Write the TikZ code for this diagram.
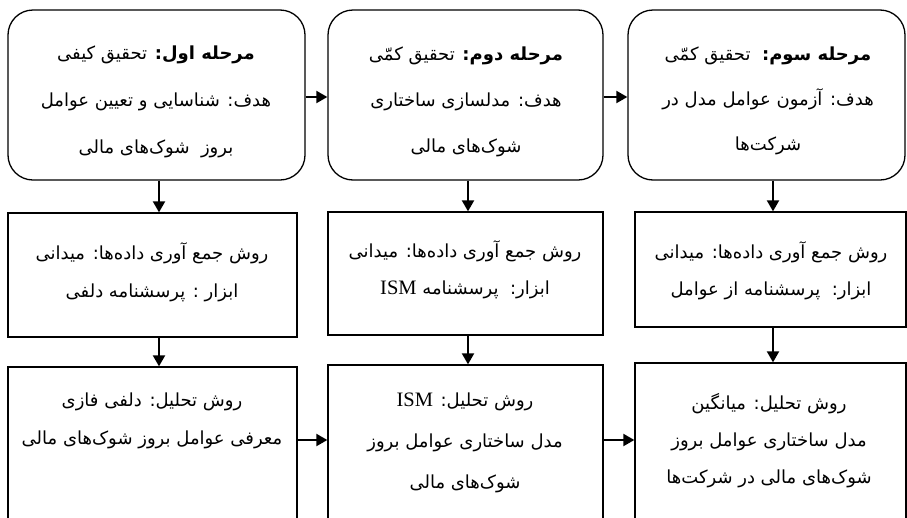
\documentclass[tikz,border=0pt]{standalone}
\usepackage{fontspec}
\setmainfont{DejaVu Sans}
\newfontfamily\fafont[Script=Arabic]{DejaVu Sans}
\newfontfamily\latfont{Liberation Serif}
\TeXXeTstate=1
\usetikzlibrary{arrows.meta}
\newcommand{\fatxt}[1]{\beginR #1\endR}
\newcommand{\ismtxt}{\beginL{\latfont\fontsize{20.5}{20.5}\selectfont ISM}\endL}
\newcommand{\fasize}[1]{\fafont\fontsize{18}{#1}\selectfont}
\tikzset{
  rbox/.style={draw, line width=1.3pt, rounded corners=25pt, inner sep=0pt},
  sbox/.style={draw, line width=1.3pt, inner sep=0pt},
  txt/.style={align=center, inner sep=0pt},
  arr/.style={line width=2pt, -{Triangle[length=11pt,width=12pt]}}
}
\begin{document}
\begin{tikzpicture}[x=1pt,y=-1pt,font=\fasize{18}]
\useasboundingbox (0,0) rectangle (907,517);
\clip (0,0) rectangle (907,517);
% row 1
\node[rbox, minimum width=297pt, minimum height=170pt] (b1) at (156.5,95) {};
\node[rbox, minimum width=275pt, minimum height=170pt] (b2) at (465.5,95) {};
\node[rbox, minimum width=277pt, minimum height=170pt] (b3) at (766.5,95) {};
% row 2
\node[sbox, minimum width=289pt, minimum height=124pt] (c1) at (152.5,275) {};
\node[sbox, minimum width=275pt, minimum height=123pt] (c2) at (465.5,273.5) {};
\node[sbox, minimum width=271pt, minimum height=115pt] (c3) at (770.5,269.5) {};
% row 3
\node[sbox, minimum width=289pt, minimum height=163pt] (d1) at (152.5,448.5) {};
\node[sbox, minimum width=275pt, minimum height=165pt] (d2) at (465.5,447.5) {};
\node[sbox, minimum width=271pt, minimum height=167pt] (d3) at (770.5,446.5) {};
% texts
\node[txt, font=\fasize{47}] (t1) at (156,102) {%
\fatxt{{\bfseries مرحله اول:} تحقیق کیفی}\\
\fatxt{هدف: شناسایی و تعیین عوامل}\\
\fatxt{بروز\ \ شوک‌های مالی}};
\node[txt, font=\fasize{46}] (t2) at (466,102) {%
\fatxt{{\bfseries مرحله دوم:} تحقیق کمّی}\\
\fatxt{هدف: مدلسازی ساختاری}\\
\fatxt{شوک‌های مالی}};
\node[txt, font=\fasize{45}] (t3) at (768,101) {%
\fatxt{{\bfseries مرحله سوم:}\ \ تحقیق کمّی}\\
\fatxt{هدف: آزمون عوامل مدل در}\\
\fatxt{شرکت‌ها}};
\node[txt, font=\fasize{38}] (u1) at (152,272) {%
\fatxt{روش جمع آوری داده‌ها: میدانی}\\
\fatxt{ابزار : پرسشنامه دلفی}};
\node[txt, font=\fasize{37}] (u2) at (465,270) {%
\fatxt{روش جمع آوری داده‌ها: میدانی}\\
\fatxt{ابزار:\ \ پرسشنامه \ismtxt}};
\node[txt, font=\fasize{37}] (u3) at (771,271) {%
\fatxt{روش جمع آوری داده‌ها: میدانی}\\
\fatxt{ابزار:\ \ پرسشنامه از عوامل}};
\node[txt, font=\fasize{38}] (v1) at (152,421) {%
\fatxt{روش تحلیل: دلفی فازی}\\
\fatxt{معرفی عوامل بروز شوک‌های مالی}};
\node[txt, font=\fasize{41}] (v2) at (465,443) {%
\fatxt{روش تحلیل: \ismtxt}\\
\fatxt{مدل ساختاری عوامل بروز}\\
\fatxt{شوک‌های مالی}};
\node[txt, font=\fasize{37}] (v3) at (769,441) {%
\fatxt{روش تحلیل: میانگین}\\
\fatxt{مدل ساختاری عوامل بروز}\\
\fatxt{شوک‌های مالی در شرکت‌ها}};
% helper coordinates for connector positions
\coordinate (xa) at (159,0);
\coordinate (xb) at (468,0);
\coordinate (xc) at (773,0);
\coordinate (ytop) at (0,97);
\coordinate (ybot) at (0,440);
% connectors
\draw[arr] (b1.east |- ytop) -- (b2.west |- ytop);
\draw[arr] (b2.east |- ytop) -- (b3.west |- ytop);
\draw[arr] (b1.south -| xa) -- (c1.north -| xa);
\draw[arr] (b2.south -| xb) -- (c2.north -| xb);
\draw[arr] (b3.south -| xc) -- (c3.north -| xc);
\draw[arr] (c1.south -| xa) -- (d1.north -| xa);
\draw[arr] (c2.south -| xb) -- (d2.north -| xb);
\draw[arr] (c3.south -| xc) -- (d3.north -| xc);
\draw[arr] (d1.east |- ybot) -- (d2.west |- ybot);
\draw[arr] (d2.east |- ybot) -- (d3.west |- ybot);
\end{tikzpicture}
\end{document}
